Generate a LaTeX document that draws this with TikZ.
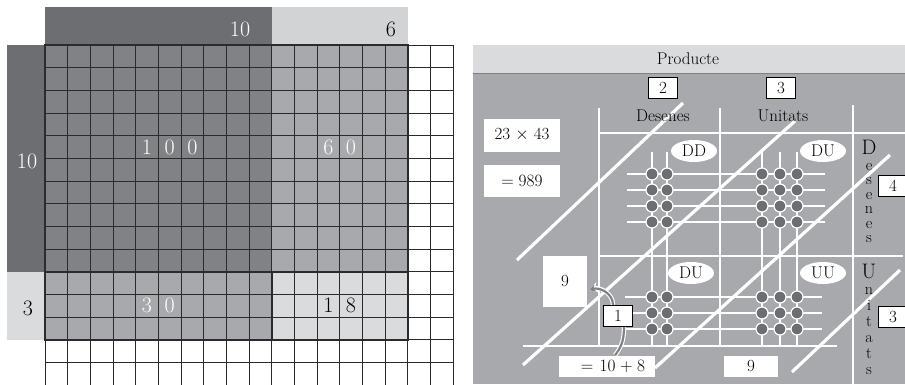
\documentclass[tikz,border=0pt]{standalone}
\usetikzlibrary{positioning,arrows.meta,calc,shapes.geometric}
\definecolor{gfosc}{HTML}{6D6E71}
\definecolor{gcent}{HTML}{808285}
\definecolor{gmig}{HTML}{A7A9AC}
\definecolor{gclar}{HTML}{DADBDD}
\definecolor{gclarB}{HTML}{D1D3D4}
\definecolor{gratlla}{HTML}{2B2B2B}
\tikzset{
  xifra/.style={font=\fontsize{22}{25}\selectfont,inner sep=0pt},
  etiq/.style={font=\fontsize{17}{20}\selectfont,inner sep=0pt},
  caixa/.style={draw=black,line width=1.2pt,fill=white,font=\fontsize{17}{20}\selectfont,minimum width=29pt,minimum height=21pt,inner sep=0pt},
  blanc/.style={fill=white,font=\fontsize{17}{20}\selectfont,inner sep=0pt},
  ovul/.style={ellipse,fill=white,font=\fontsize{17}{20}\selectfont,minimum width=46pt,minimum height=22pt,inner sep=0pt},
  perla/.style={circle,fill=gfosc,draw=white,line width=1.2pt,minimum size=12pt,inner sep=0pt},
  eix/.style={white,line width=2.4pt},
  fil/.style={white,line width=1.6pt},
  diag/.style={white,line width=3.2pt},
  vora/.style={gratlla,line width=2.4pt},
  vertical/.style={align=center,anchor=north,inner sep=0pt},
}
\newcommand{\gran}[1]{{\fontsize{21}{24}\selectfont #1}}
\begin{document}
\begin{tikzpicture}[x=1pt,y=-1pt]
  \useasboundingbox (0,0) rectangle (905,384);
  \def\c{22.667}
  % quadricula 16 x 13
  \fill[gfosc] (45,7) rectangle (272,45);
  \fill[gclarB] (272,7) rectangle (408,45);
  \fill[gfosc] (7,45) rectangle (45,272);
  \fill[gclar] (7,272) rectangle (45,340);
  \fill[gcent] (45,45) rectangle (272,272);
  \fill[gmig] (272,45) rectangle (408,272);
  \fill[gmig] (45,272) rectangle (272,340);
  \fill[gclar] (272,272) rectangle (408,340);
  \foreach \i in {0,...,18}
    \draw[gratlla,line width=1pt] ({45+\i*\c},45) -- ({45+\i*\c},390);
  \foreach \j in {0,...,15}
    \draw[gratlla,line width=1pt] (45,{45+\j*\c}) -- (453,{45+\j*\c});
  \draw[vora] (45,45) rectangle (408,340) (45,272) -- (408,272) (272,272) -- (272,340);
  \node[xifra,white] (sup10) at (240,29) {10};
  \node[xifra] (sup6) at (391,29) {6};
  \node[xifra,white] (esq10) at (27,161) {10};
  \node[xifra] (esq3) at (28,308) {3};
  \foreach \d/\i/\j/\col in {1/4/4/white,0/5/4/white,0/6/4/white,6/12/4/white,0/13/4/white,
      3/4/11/white,0/5/11/white,1/12/11/black,8/13/11/black}
    \node[xifra,text=\col] (q\i-\j) at ({45+(\i+0.5)*\c},{45+(\j+0.5)*\c}) {\d};
  % panell del producte
  \fill[gmig] (473,45) rectangle (905,384);
  \fill[gclar] (473,45) rectangle (905,73);
  \draw[gray,line width=0.8pt] (473,73) -- (905,73);
  \node[etiq] (prod) at (688,59) {Producte};
  \draw[eix] (599,108) -- (599,346) (720,108) -- (720,347) (853,105) -- (853,384);
  \draw[eix] (599,133) -- (905,133) (598,256) -- (903,256) (523,346) -- (837,346);
  \draw[diag] (517,260) -- (683,103) (523,365) -- (795,121)
              (655,368) -- (890,155) (792,372) -- (900,270);
  \foreach \y in {174,190,206,222} \draw[fil] (627,\y) -- (825,\y);
  \foreach \y in {297,313,329} \draw[fil] (625,\y) -- (822,\y);
  \foreach \x in {652,667,762,780,797} \draw[fil] (\x,152) -- (\x,347);
  \foreach \x in {652,667,762,780,797}
    \foreach \y in {174,190,206,222,297,313,329}
      \node[perla] (p\x-\y) at (\x,\y) {};
  \node[ovul] (dd) at (694,151) {DD};
  \node[ovul] (du1) at (823,151) {DU};
  \node[ovul] (du2) at (691,273) {DU};
  \node[ovul] (uu) at (823,273) {UU};
  \node[caixa] (b2) at (663,88) {2};
  \node[caixa] (b3) at (781,88) {3};
  \node[caixa] (b4) at (893,186) {4};
  \node[caixa] (b3u) at (893,317) {3};
  \node[etiq] (des) at (663,116) {Desenes};
  \node[etiq] (uni) at (783,116) {Unitats};
  \node[vertical,font=\fontsize{16}{14.5}\selectfont] (vdes) at (869,140)
    {\gran{D}\\[1pt]e\\s\\e\\n\\e\\s};
  \node[vertical,font=\fontsize{16}{16}\selectfont] (vuni) at (869,264)
    {\gran{U}\\[0pt]n\\i\\t\\a\\t\\s};
  \node[blanc,minimum width=76pt,minimum height=33pt] (mult) at (522,135) {23 $\times$ 43};
  \node[blanc,minimum width=76pt,minimum height=32pt] (res) at (522,181) {$=989$};
  \node[blanc,minimum width=44pt,minimum height=51pt] (nou) at (565,281) {9};
  \node[caixa] (u1) at (618,316) {1};
  \node[blanc,text width=76pt,inner xsep=10pt,align=right,minimum height=21pt] (eq) at (607,366) {$=10+8$};
  \node[blanc,minimum width=54pt,minimum height=21pt] (nou2) at (751,366) {9};
  % portant
  \coordinate (punta) at ([xshift=2pt,yshift=-9pt]nou.east);
  \draw[white,line width=4.4pt,-{Stealth[length=9pt,width=11pt]}]
    ([xshift=-5pt]u1.north) .. controls +(0,-12) and +(10,-3) .. (punta);
  \draw[gcent,line width=2.2pt,-{Stealth[length=6.5pt,width=7.5pt]}]
    ([xshift=-5pt]u1.north) .. controls +(0,-12) and +(10,-3) .. (punta);
  \draw[white,line width=4.4pt] ([xshift=6pt]u1.south) .. controls +(0,14) and +(6,-8) .. ([xshift=8pt]eq.north);
  \draw[gcent,line width=2.2pt] ([xshift=6pt]u1.south) .. controls +(0,14) and +(6,-8) .. ([xshift=8pt]eq.north);
\end{tikzpicture}
\end{document}
